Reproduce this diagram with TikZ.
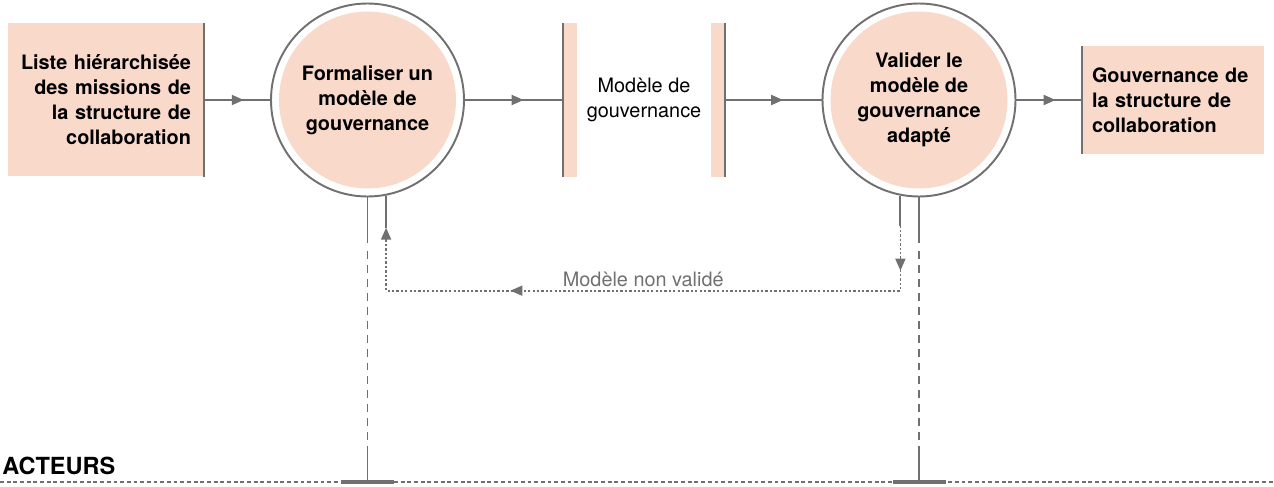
\documentclass[tikz,border=0pt]{standalone}
\usepackage{fontspec}
\setmainfont{TeX Gyre Heros}
\usetikzlibrary{arrows.meta,calc,positioning,decorations.markings}
\definecolor{flowpeach}{RGB}{248,217,202}
\definecolor{flowgray}{RGB}{112,112,112}

\begin{document}
\begin{tikzpicture}[
      font=\fontsize{11.3}{14.2}\selectfont,
      flow/.style={draw=flowgray, line width=1.1pt},
      tip/.style={-{Triangle[length=0.24cm, width=0.2cm]}},
      midarrow/.style={postaction={decorate}, decoration={markings, mark=at position #1 with {\arrow[flowgray]{Triangle[length=0.24cm, width=0.2cm]}}}},
      docbox/.style={fill=flowpeach, minimum height=#1, inner ysep=0pt, font=\bfseries\fontsize{11.3}{14.2}\selectfont},
      task/.style={circle, draw=flowgray, line width=1.1pt, fill=white, minimum size=3.86cm, inner sep=0pt, align=center, font=\bfseries\fontsize{11.3}{14.2}\selectfont,
        path picture={\fill[flowpeach] (path picture bounding box.center) circle (1.77cm);}},
      actorline/.style={flow, dash pattern=on 4.5pt off 3.4pt},
      fbline/.style={draw=flowgray, line width=1pt, dash pattern=on 1.3pt off 1.2pt},
      tbar/.style={draw=flowgray, line width=1.8pt}
    ]
      \useasboundingbox (0,0) rectangle (25.48,9.72);

      % Actors baseline
      \coordinate (axl) at (0,0.08);
      \coordinate (axr) at (25.48,0.08);
      \draw[draw=flowgray, line width=0.8pt, dash pattern=on 2.2pt off 1.6pt] (axl) -- (axr);
      \node[anchor=base west, inner sep=0pt, font=\bfseries\fontsize{13.4}{16}\selectfont] (actors) at (0.04,0.24) {ACTEURS};

      % Input
      \node[docbox=3.06cm, minimum width=3.92cm, text width=3.4cm, inner xsep=0.26cm, align=right] (input) at (2.12,7.72)
        {Liste hiérarchisée\\des missions de\\la structure de\\collaboration};
      \draw[flow] (input.north east) -- (input.south east);

      % Tasks
      \node[task] (formal) at (7.35,7.72) {Formaliser un\\modèle de\\gouvernance};
      \node[task] (valid) at (18.38,7.72) {Valider le\\modèle de\\gouvernance\\adapté};

      % Data store
      \node[minimum width=3.24cm, minimum height=3.06cm, inner sep=0pt, align=center] (model) at (12.88,7.72) {Modèle de\\gouvernance};
      \fill[flowpeach] (model.north west) rectangle ($(model.south west)+(0.28,0)$);
      \fill[flowpeach] ($(model.north east)-(0.28,0)$) rectangle (model.south east);
      \draw[flow] (model.north west) -- (model.south west);
      \draw[flow] (model.north east) -- (model.south east);

      % Output
      \node[docbox=2.16cm, minimum width=3.64cm, text width=3.24cm, inner xsep=0.2cm, align=left] (output) at (23.46,7.72)
        {Gouvernance de\\la structure de\\collaboration};
      \draw[flow] (output.north west) -- (output.south west);

      % Main flow
      \draw[flow, midarrow=0.6] (input.east) -- (formal.west);
      \draw[flow, midarrow=0.6] (formal.east) -- (model.west);
      \draw[flow, midarrow=0.6] (model.east) -- (valid.west);
      \draw[flow, midarrow=0.6] (valid.east) -- (valid.east -| output.west);

      % Actor links
      \coordinate (t1) at (7.35,0.08);
      \coordinate (t2) at (18.38,0.08);
      \foreach \task/\bar in {formal/t1, valid/t2} {
        \draw[flow] (\task.south) -- ++(0,-0.91);
        \draw[actorline] ($(\task.south)+(0,-1.08)$) -- ($(\bar)+(0,0.6)$);
        \draw[flow] ($(\bar)+(0,0.6)$) -- (\bar);
        \draw[tbar] ($(\bar)+(-0.53,0)$) -- ($(\bar)+(0.53,0)$);
      }

      % Feedback loop
      \draw[flow] (valid.-101) -- ++(0,-0.6) coordinate (fbA);
      \draw[flow] (formal.-79) -- ++(0,-0.64) coordinate (fbB);
      \coordinate (fbC) at ($(fbA)+(0,-1.3)$);
      \draw[fbline, tip, postaction={decorate}, decoration={markings,
          mark=at position 0.9cm with {\arrow[flowgray]{Triangle[length=0.24cm, width=0.2cm]}},
          mark=at position 9.1cm with {\arrow[flowgray]{Triangle[length=0.24cm, width=0.2cm]}}}]
        (fbA) -- (fbC) -- node[above, inner sep=1.5pt, text=flowgray] (nonvalid) {Modèle non validé} (fbC -| fbB) -- (fbB);
    \end{tikzpicture}
\end{document}
